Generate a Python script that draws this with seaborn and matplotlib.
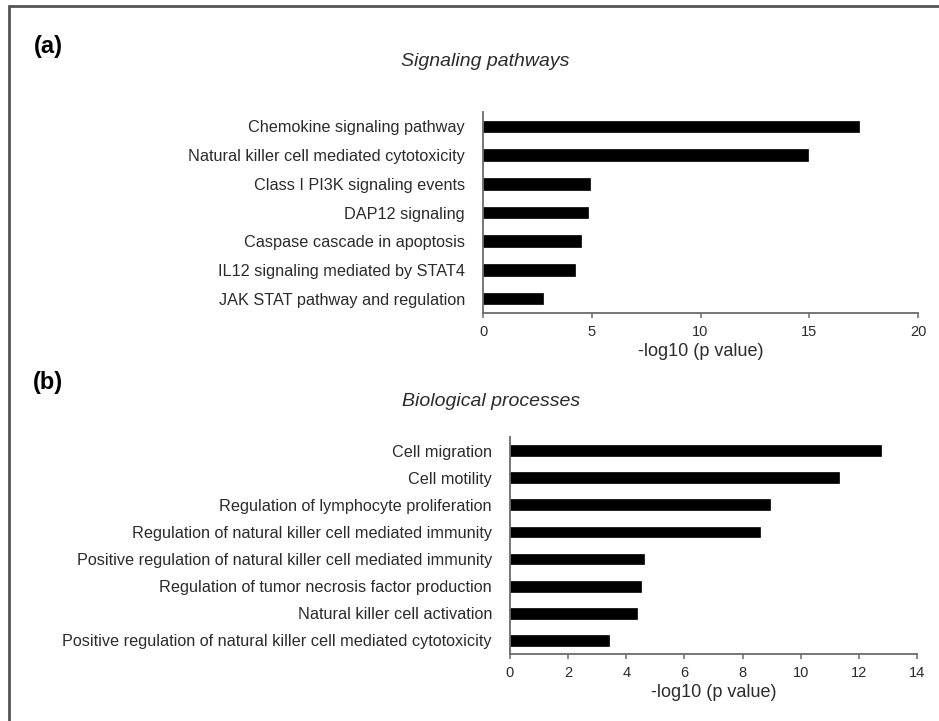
import matplotlib
matplotlib.use("Agg")
import matplotlib.pyplot as plt
from matplotlib.lines import Line2D
import pandas as pd
import seaborn as sns

# Enrichment results: -log10(p value) per term
pathways = [
    "Chemokine signaling pathway",
    "Natural killer cell mediated cytotoxicity",
    "Class I PI3K signaling events",
    "DAP12 signaling",
    "Caspase cascade in apoptosis",
    "IL12 signaling mediated by STAT4",
    "JAK STAT pathway and regulation",
]
pathway_scores = [17.3, 14.95, 4.9, 4.85, 4.52, 4.22, 2.75]

processes = [
    "Cell migration",
    "Cell motility",
    "Regulation of lymphocyte proliferation",
    "Regulation of natural killer cell mediated immunity",
    "Positive regulation of natural killer cell mediated immunity",
    "Regulation of tumor necrosis factor production",
    "Natural killer cell activation",
    "Positive regulation of natural killer cell mediated cytotoxicity",
]
process_scores = [12.75, 11.32, 8.93, 8.6, 4.6, 4.52, 4.36, 3.4]

pathway_ticks = [0, 5, 10, 15, 20]
process_ticks = [0, 2, 4, 6, 8, 10, 12, 14]

sns.set_theme(style="white")
plt.rcParams["font.family"] = ["Liberation Sans", "DejaVu Sans"]

W, H = 939, 721
fig = plt.figure(figsize=(W / 100, H / 100), dpi=100)
fig.patch.set_facecolor("white")

ax1 = fig.add_axes([483 / W, 1 - 313 / H, 435 / W, 201 / H])
ax2 = fig.add_axes([510 / W, 1 - 654 / H, 407 / W, 217 / H])

AXIS_COLOR = "#6b6b6b"
TEXT_COLOR = "#2b2b2b"


def draw_panel(ax, terms, scores, ticks):
    df = pd.DataFrame({"term": terms, "score": scores})
    sns.barplot(data=df, y="term", x="score", color="black", saturation=1,
                width=0.4, ax=ax, orient="h")
    for p in ax.patches:
        p.set_edgecolor("black")
        p.set_linewidth(0.5)
    ax.set_xlim(ticks[0], ticks[-1])
    ax.set_ylim(len(terms) - 0.5, -0.5)
    ax.set_xticks(ticks)
    ax.set_xticklabels([str(t) for t in ticks], fontsize=10.5, color=TEXT_COLOR)
    ax.set_yticks(range(len(terms)))
    ax.set_yticklabels(terms, fontsize=11.7, color=TEXT_COLOR)
    ax.set_ylabel("")
    ax.set_xlabel("-log10 (p value)", fontsize=13, color=TEXT_COLOR, labelpad=3)
    for side in ("top", "right"):
        ax.spines[side].set_visible(False)
    for side in ("left", "bottom"):
        ax.spines[side].set_color(AXIS_COLOR)
        ax.spines[side].set_linewidth(1.3)
    ax.tick_params(axis="y", length=0, pad=13)
    ax.tick_params(axis="x", direction="out", length=3.5, width=1.1,
                   color=AXIS_COLOR, pad=5, bottom=True)
    ax.grid(False)


draw_panel(ax1, pathways, pathway_scores, pathway_ticks)
draw_panel(ax2, processes, process_scores, process_ticks)

fig.text(485 / W, 1 - 62 / H, "Signaling pathways", fontsize=14, style="italic",
         ha="center", va="center", color=TEXT_COLOR)
fig.text(491 / W, 1 - 402 / H, "Biological processes", fontsize=14, style="italic",
         ha="center", va="center", color=TEXT_COLOR)
fig.text(34 / W, 1 - 46 / H, "(a)", fontsize=17, fontweight="bold",
         ha="left", va="center", color="black")
fig.text(33 / W, 1 - 382 / H, "(b)", fontsize=17, fontweight="bold",
         ha="left", va="center", color="black")

# Frame edges along the top and left of the figure
fig.add_artist(Line2D([9 / W, 1.0], [1 - 6 / H, 1 - 6 / H], color="#555555",
                      lw=2, transform=fig.transFigure))
fig.add_artist(Line2D([9 / W, 9 / W], [0.0, 1 - 6 / H], color="#555555",
                      lw=2, transform=fig.transFigure))

fig.savefig("out.png", dpi=100, facecolor="white")
